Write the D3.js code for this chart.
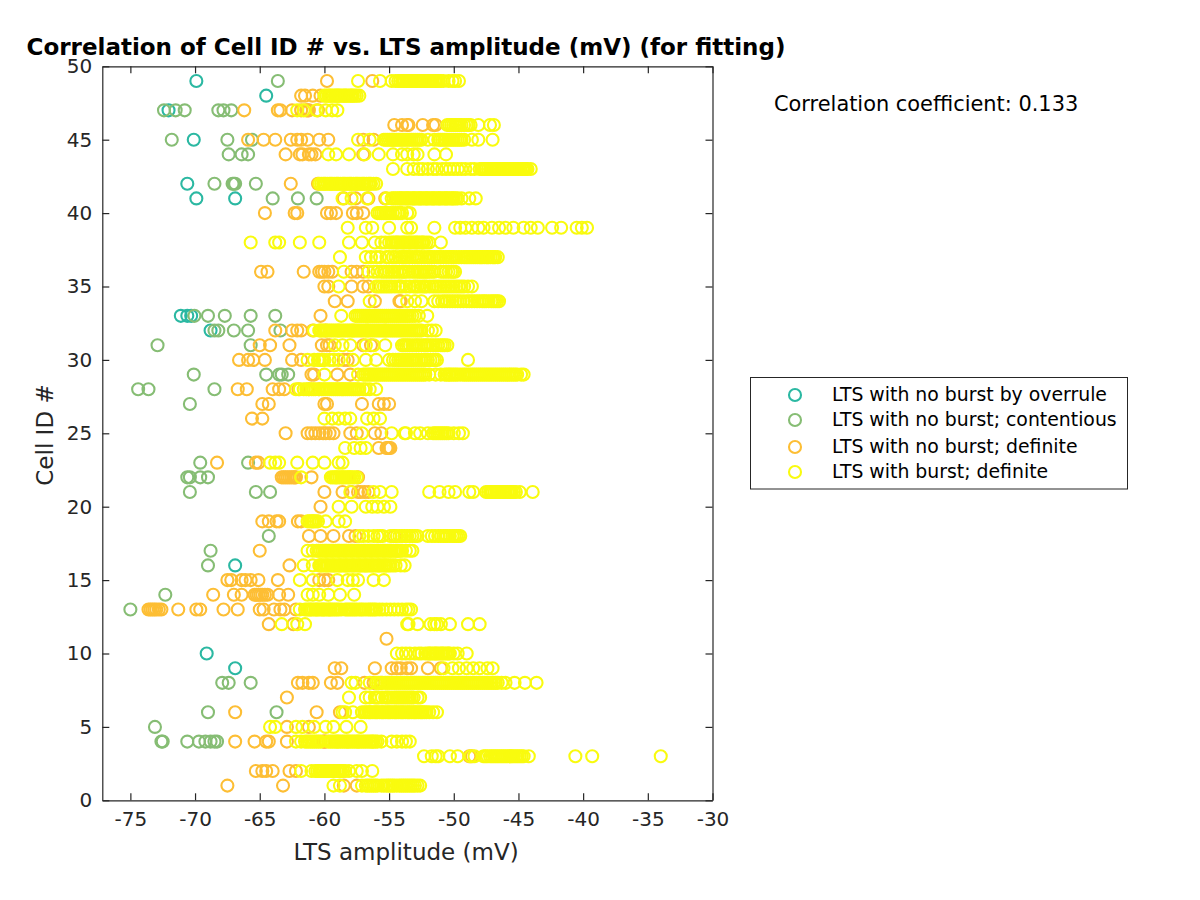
<!DOCTYPE html>
<html><head><meta charset="utf-8">
<script src="https://cdn.jsdelivr.net/npm/d3@7/dist/d3.min.js"></script>
<style>html,body{margin:0;background:#fff}svg{display:block}text{font-family:"DejaVu Sans",sans-serif}</style>
</head><body><svg id="c" width="1200" height="900"></svg>
<script>
const xTicks=[-75,-70,-65,-60,-55,-50,-45,-40,-35,-30];
const yTicks=[0,5,10,15,20,25,30,35,40,45,50];
const seriesNames=["LTS with no burst by overrule","LTS with no burst; contentious","LTS with no burst; definite","LTS with burst; definite"];
const seriesColors=["#2bb8a2","#86bd74","#fdbe34","#f9fb0e"];

const overrule=[[49,[-69.9]],[48,[-64.5]],[47,[-72.05]],[45,[-70.1]],[42,[-70.6]],[41,[-69.9,-66.9]],[33,[-71.1,-70.6,-70.3]],[32,[-68.8]],[16,[-66.9]],[10,[-69.1]],[9,[-66.9]]];

const contentious=[[49,[-63.6]],[47,[-72.4,-71.5,-70.8,-68.2,-67.8,-67.2]],[45,[-71.8,-67.5,-65.6]],[44,[-67.4,-66.4,-65.9]],[42,[-68.5,-67.1,-67,-66.9,-65.3]],[41,[-64,-62.05,-60.6]],[33,[-70.05,-69,-67.7,-65.7,-63.8]],[32,[-68.5,-68.2,-67,-65.9,-63.4]],[31,[-72.9,-65.7]],[29,[-70.1,-64.5,-63.5,-63.3,-62.8]],[28,[-74.4,-73.6,-68.5]],[27,[-70.4]],[23,[-69.6,-65.9]],[22,[-70.6,-70.4,-69.6,-69]],[21,[-70.4,-65.3,-64.2]],[18,[-64.3]],[17,[-68.8]],[16,[-69]],[14,[-72.3]],[13,[-75]],[8,[-67.9,-67.4,-65.7]],[6,[-69,-63.7]],[5,[-73.1]],[4,[-72.6,-72.5,-70.6,-69.7,-69.2,-68.8,-68.5,-68.3]]];

const noBurstDefinite=[[49,[-59.8,-56.3]],[48,[-61.8,-61.5,-60.9,-60.3]],[47,[-66.2,-63.6,-63.4,-62.5,-61.8,-61.4,-61.3,-61.2,-60.5]],[46,[-54.6,-54,-53.6,-53.5,-52.4,-51.6,-51.4]],[45,[-65.9,-64.7,-63.8,-62.6,-62.1,-61.8,-61.3,-60.4,-59.7,-57,-56.2]],[44,[-63,-61.9,-61.7,-61.2,-61,-60.7,-57]],[42,[-62.6,-60.5]],[41,[-58.5,-57.6,-56.6,-55.3]],[40,[-64.6,-62.3,-62.1,-59.8,-59.5,-59.1,-57.8,-57.5,-57]],[36,[-64.9,-64.4,-61.6,-60.4,-60.2,-60,-59.7,-59.4,-57.9,-57.5,-57]],[35,[-60,-59.7,-57.9,-57,-56.6]],[34,[-59.2,-58.2,-56.1,-54.2,-54.1]],[33,[-60.3]],[32,[-63.8,-62.5,-62.1,-61.8,-60.9,-59.9]],[31,[-65,-64.2,-62.7,-60.2,-59.8,-59.6,-57,-56.4]],[30,[-66.6,-65.9,-65.5,-64.6,-62.5,-61.8,-58.5,-58.2]],[29,[-61,-60.8,-59,-58]],[28,[-66.7,-66,-64,-63.5,-63.1,-62,-61.2,-60.4]],[27,[-64.8,-64.3,-60,-59.8,-57.1,-55.8,-55.4,-55]],[26,[-65.6,-64.8]],[25,[-63,-61.3,-61,-60.7,-60.4,-60.1,-59.9,-59.6,-59.3,-58,-57.5,-56.1,-55.6]],[24,[-55.8,-55.2,-55.1,-55,-54.9]],[23,[-68.3,-65.3,-65.1]],[22,[-63.3,-63.15,-63,-62.85,-62.7,-62.55,-62.4,-62.3,-62.2,-61,-57.4]],[21,[-60,-58.6,-57.9,-57.4,-57.2,-56.9,-56.6]],[20,[-60.3]],[19,[-64.8,-64.3,-63.7,-63.5,-62.05,-61.8]],[18,[-61.2,-60.3,-59.3,-58.1,-57.6,-54.6]],[17,[-65]],[16,[-62.7]],[15,[-67.5,-67.2,-66.4,-66.1,-65.7,-65.1,-63.6,-60.4,-60,-59.7]],[14,[-68.6,-67,-66.4,-65.4,-65.25,-65.1,-64.95,-64.8,-64.6,-64.4,-63.5,-62.8]],[13,[-73.6,-73.45,-73.3,-73.15,-73,-72.8,-72.6,-71.3,-69.9,-69.6,-67.8,-66.7,-65,-64.7,-63.9,-63.4,-63.1,-62.2]],[12,[-64.3,-62.4]],[11,[-55.2]],[9,[-59.2,-58.7,-56.1,-54.8,-54.4,-53.6,-54.1,-53.3,-52,-51]],[8,[-62.05,-61.7,-61.2,-60.9,-59.5,-59,-56.9,-56.2,-55.6]],[7,[-62.9]],[6,[-66.9,-60.6,-58.8]],[5,[-62.9,-61.2]],[4,[-66.9,-65.4,-64.5,-64.3,-62.9,-60.1,-60,-59.9]],[3,[-48.8,-48.6]],[2,[-65.3,-64.8,-64.5,-64,-62.7,-62.2]],[1,[-67.5,-63.2,-58.5,-57.5]]];

const burstDefinite=[
[49,[-57.4,-55.7,-54.8,-54.5,-54.3,-54.15,-54,-53.9,-53.8,-53.65,-53.5,-53.4,-53.3,-53.15,-53,-52.9,-52.8,-52.65,-52.5,-52.4,-52.3,-52.15,-52,-51.9,-51.8,-51.65,-51.5,-51.4,-51.3,-51.15,-51,-50.8,-50.4,-50.1,-49.9,-49.6]],
[48,[-60,-59.85,-59.7,-59.6,-59.5,-59.35,-59.2,-59.1,-59,-58.9,-58.8,-58.65,-58.5,-58.4,-58.3,-58.15,-58,-57.9,-57.8,-57.65,-57.5,-57.3]],
[47,[-62.1,-61.6,-60.6,-59.9,-59.4,-59]],
[46,[-50.5,-50.35,-50.2,-50.05,-49.9,-49.8,-49.7,-49.55,-49.4,-49.2,-49,-48.85,-48.7,-48.1,-47.2,-46.9]],
[45,[-57.4,-56.5,-55.4,-55.25,-55.1,-54.95,-54.8,-54.7,-54.6,-54.45,-54.3,-54.15,-54,-53.85,-53.7,-53.55,-53.4,-53.25,-53.1,-52.95,-52.8,-52.65,-52.5,-52,-51.5,-51.2,-51.05,-50.9,-50.75,-50.6,-50.45,-50.3,-50.15,-50,-49.85,-49.7,-49.55,-49.4,-49.2,-48.6,-48.1,-47]],
[44,[-59.7,-59.1,-58.1,-56.9,-55.8,-54.7,-53.6,-54,-53.1,-52.8,-51.5,-50.6]],
[43,[-54.7,-53.6,-53.1,-52.7,-52.4,-52,-51.6,-51.3,-50.9,-50.6,-50.3,-50,-49.7,-49.4,-49.1,-48.7,-48.4,-48,-47.85,-47.7,-47.6,-47.5,-47.35,-47.2,-47.1,-47,-46.85,-46.7,-46.6,-46.5,-46.35,-46.2,-46.1,-46,-45.85,-45.7,-45.6,-45.5,-45.35,-45.2,-45.1,-45,-44.85,-44.7,-44.6,-44.5,-44.4,-44.3,-44.05]],
[42,[-60.4,-60.25,-60.1,-60,-59.9,-59.75,-59.6,-59.5,-59.4,-59.25,-59.1,-59,-58.9,-58.75,-58.6,-58.5,-58.4,-58.25,-58.1,-58,-57.9,-57.75,-57.6,-57.5,-57.4,-57.25,-57.1,-57,-56.9,-56.75,-56.6,-56.5,-56.4,-56.2,-56]],
[41,[-58.6,-57.9,-56.7,-55.2,-54.8,-54.65,-54.5,-54.35,-54.2,-54.1,-54,-53.85,-53.7,-53.6,-53.5,-53.35,-53.2,-53.1,-53,-52.85,-52.7,-52.6,-52.5,-52.35,-52.2,-52.1,-52,-51.85,-51.7,-51.6,-51.5,-51.35,-51.2,-51.1,-51,-50.85,-50.7,-50.6,-50.5,-50.35,-50.2,-50.1,-50,-49.85,-49.7,-49.4,-48.8,-48.3]],
[40,[-55.9,-55.75,-55.6,-55.45,-55.3,-55.2,-55.1,-54.9,-54.7,-54.5,-54.3,-54.15,-54,-53.6,-53.4]],
[39,[-58.2,-56.8,-56.3,-55,-53.6,-53.3,-51.5,-49.9,-49.5,-49.1,-48.6,-48.1,-47.7,-47.05,-46.5,-46,-45.4,-44.6,-44.05,-43.5,-42.4,-41.7,-40.5,-40.1,-39.7]],
[38,[-65.7,-63.8,-63.5,-61.9,-60.4,-58.1,-57.1,-56.1,-55.6,-55.3,-55,-54.8,-54.65,-54.5,-54.4,-54.3,-54.15,-54,-53.9,-53.8,-53.65,-53.5,-53.4,-53.3,-53.15,-53,-52.9,-52.8,-52.65,-52.5,-52.4,-52.3,-52.1,-51.9,-51]],
[37,[-58.8,-56.8,-56.4,-56,-55.7,-55.2,-55,-54.7,-54.5,-54.2,-54,-53.85,-53.7,-53.55,-53.4,-53.2,-53,-52.85,-52.7,-52.5,-52.25,-52,-51.85,-51.7,-51.5,-51.3,-51.15,-51,-50.8,-50.6,-50.45,-50.3,-50.15,-50,-49.8,-49.6,-49.4,-49.2,-49.05,-48.9,-48.75,-48.6,-48.45,-48.3,-48.15,-48,-47.9,-47.8,-47.65,-47.5,-47.4,-47.3,-47.15,-47,-46.9,-46.8,-46.6]],
[36,[-58.5,-56.6,-56.2,-55.9,-55.6,-55.4,-55.2,-55,-54.8,-54.6,-54.4,-54.2,-54,-53.85,-53.7,-53.45,-53.2,-53,-52.8,-52.65,-52.5,-52.35,-52.2,-52.05,-51.9,-51.7,-51.5,-51,-50.8,-50.6,-50.4,-50.2,-50.05,-49.9]],
[35,[-58.9,-56,-55.8,-55.6,-55.4,-55.2,-55,-54.8,-54.55,-54.3,-54.15,-54,-53.7,-53.4,-53.1,-52.95,-52.8,-52.6,-52.4,-52.25,-52.1,-51.85,-51.6,-51.4,-51.2,-51,-50.8,-50.6,-50.4,-50.2,-50,-49.8,-49.6,-49.4,-49.2,-48.9,-48.6]],
[34,[-56.5,-53.6,-53,-52.5,-51.5,-51.2,-50.9,-50.7,-50.5,-50.3,-50.1,-49.9,-49.7,-49.5,-49.25,-49,-48.8,-48.6,-48.4,-48.2,-48,-47.8,-47.65,-47.5,-47.3,-47.1,-46.95,-46.8,-46.65,-46.5]],
[33,[-58.7,-57.6,-57.45,-57.3,-57.15,-57,-56.85,-56.7,-56.55,-56.4,-56.25,-56.1,-55.95,-55.8,-55.65,-55.5,-55.35,-55.2,-55.05,-54.9,-54.75,-54.6,-54.45,-54.3,-54.15,-54,-53.85,-53.7,-53.55,-53.4,-53.2,-53,-52.7,-52.05]],
[32,[-60.8,-60.4,-60.3,-60.2,-60.05,-59.9,-59.75,-59.6,-59.45,-59.3,-59.15,-59,-58.9,-58.8,-58.65,-58.5,-58.35,-58.2,-58.05,-57.9,-57.8,-57.7,-57.55,-57.4,-57.25,-57.1,-56.95,-56.8,-56.7,-56.6,-56.45,-56.3,-56.15,-56,-55.85,-55.7,-55.55,-55.4,-55.3,-55.2,-55.05,-54.9,-54.75,-54.6,-54.45,-54.3,-54.15,-54,-53.85,-53.7,-53.55,-53.4,-53.25,-53.1,-52.95,-52.8,-52.65,-52.5,-52,-51.7,-51.4]],
[31,[-59.2,-58.6,-58,-56.8,-56.2,-55.3,-54,-53.85,-53.7,-53.55,-53.4,-53.2,-53,-52.85,-52.7,-52.5,-52.3,-52.15,-52,-51.8,-51.6,-51.4,-51.2,-51,-50.85,-50.7,-50.5]],
[30,[-61.3,-60.8,-60.5,-60.35,-60.2,-60.1,-60,-59.6,-59.3,-58.9,-57.8,-56.8,-56,-55,-54.7,-54.5,-54.3,-54.15,-54,-53.85,-53.7,-53.55,-53.4,-53.25,-53.1,-52.9,-52.7,-52.5,-52.3,-52.15,-52,-51.8,-51.6,-51.45,-51.3,-48.9]],
[29,[-60,-57.4,-57,-56.85,-56.7,-56.55,-56.4,-56.25,-56.1,-55.95,-55.8,-55.65,-55.5,-55.35,-55.2,-55.05,-54.9,-54.75,-54.6,-54.45,-54.3,-54.15,-54,-53.85,-53.7,-53.55,-53.4,-53.25,-53.1,-52.95,-52.8,-52.65,-52.5,-52.35,-52.2,-51.9,-51.4,-51,-50.7,-50.55,-50.4,-50.3,-50.15,-50,-49.85,-49.7,-49.5,-49.3,-49.15,-49,-48.85,-48.7,-48.55,-48.4,-48.25,-48.1,-47.95,-47.8,-47.65,-47.5,-47.35,-47.2,-47.05,-46.9,-46.75,-46.6,-46.45,-46.3,-46.15,-46,-45.85,-45.7,-45.55,-45.4,-45.25,-45.1,-44.8,-44.6]],
[28,[-62.2,-61.9,-61.6,-61.4,-61.2,-61,-60.85,-60.7,-60.45,-60.2,-60.05,-59.9,-59.75,-59.6,-59.45,-59.3,-59.15,-59,-58.85,-58.7,-58.6,-58.5,-58.35,-58.2,-58.05,-57.9,-57.75,-57.6,-57.45,-57.3,-57,-56.8,-56.5,-56]],
[26,[-60,-59.4,-58.9,-58.4,-58,-56.7,-56.2,-55.7]],
[25,[-57.1,-54.8,-53.8,-53.7,-53,-52.6,-52,-51.6,-51.45,-51.3,-51.15,-51,-50.85,-50.7,-50.55,-50.4,-50,-49.6,-49.3]],
[24,[-58.4,-57.7,-57.2,-56.8]],
[23,[-64.2,-63.8,-63.5,-62.1,-60.9,-60,-58.9,-58.6]],
[22,[-61.8,-59.5,-59.35,-59.2,-59.1,-59,-58.85,-58.7,-58.6,-58.5,-58.35,-58.2,-58.1,-58,-57.85,-57.7,-57.5]],
[21,[-58,-56.2,-55.7,-54.8,-51.9,-51.1,-50.4,-49.9,-48.8,-48.5,-47.5,-47.35,-47.2,-47.1,-47,-46.85,-46.7,-46.6,-46.5,-46.35,-46.2,-46.1,-46,-45.85,-45.7,-45.6,-45.5,-45.35,-45.2,-44.9,-43.9]],
[20,[-58.9,-57.9,-56.8,-56.3,-55.9,-55.4,-54.9]],
[19,[-61.3,-61.15,-61,-60.9,-60.8,-60.65,-60.5,-59.9,-58.9,-58.4]],
[18,[-57.3,-57,-56.6,-56.2,-55.9,-55.7,-55.5,-54.9,-54.65,-54.4,-54.2,-54,-53.8,-53.6,-53.4,-53.2,-53,-52.8,-52,-51.7,-51.45,-51.2,-51,-50.8,-50.65,-50.5,-50.3,-50.1,-49.95,-49.8,-49.65,-49.5]],
[17,[-61.3,-60.9,-60.6,-60.45,-60.3,-60.15,-60,-59.9,-59.8,-59.65,-59.5,-59.4,-59.3,-59.15,-59,-58.9,-58.8,-58.65,-58.5,-58.4,-58.3,-58.15,-58,-57.9,-57.8,-57.65,-57.5,-57.4,-57.3,-57.15,-57,-56.9,-56.8,-56.65,-56.5,-56.4,-56.3,-56.15,-56,-55.9,-55.8,-55.65,-55.5,-55.4,-55.3,-55.15,-55,-54.9,-54.8,-54.65,-54.5,-54.4,-54.3,-54.15,-54,-53.7,-53.4,-53.2]],
[16,[-61.6,-60.9,-60.4,-60.3,-60.2,-60.05,-59.9,-59.8,-59.7,-59.55,-59.4,-59.3,-59.2,-59.05,-58.9,-58.8,-58.7,-58.55,-58.4,-58.3,-58.2,-58.05,-57.9,-57.8,-57.7,-57.55,-57.4,-57.3,-57.2,-57.05,-56.9,-56.8,-56.7,-56.55,-56.4,-56.3,-56.2,-56.05,-55.9,-55.8,-55.7,-55.55,-55.4,-55.3,-55.2,-55.05,-54.9,-54.7,-54.5,-54.1,-53.8]],
[15,[-61.9,-60.9,-59,-58.2,-57.8,-57.4,-56.2,-55.4]],
[14,[-61.3,-60.9,-60.4,-59.7,-58.8,-57.7]],
[13,[-61.9,-61.5,-61.35,-61.2,-61.1,-61,-60.85,-60.7,-60.6,-60.5,-60.35,-60.2,-60.1,-60,-59.85,-59.7,-59.6,-59.5,-59.35,-59.2,-59.05,-58.9,-58.7,-58.4,-58.25,-58.1,-57.95,-57.8,-57.65,-57.5,-57.3,-57.15,-57,-56.8,-56.6,-56.45,-56.3,-56.15,-56,-55.75,-55.5,-55.2,-54.9,-54.6,-54.3,-54,-53.7,-53.5,-53.3]],
[12,[-63.3,-62.1,-61.5,-53.6,-53.5,-52.8,-51.8,-51.5,-51.3,-51,-50.3,-48.9,-48]],
[10,[-54.4,-54,-53.7,-53.4,-53,-52.7,-52.5,-52.2,-52,-51.9,-51.8,-51.65,-51.5,-51.4,-51.3,-51.15,-51,-50.9,-50.8,-50.65,-50.5,-50.4,-50.3,-50,-49.7,-49]],
[9,[-50.8,-50.1,-49.6,-49,-48.5,-48,-47.4,-47]],
[8,[-57.9,-57.6,-56.5,-56,-55.85,-55.7,-55.5,-55.3,-55.15,-55,-54.85,-54.7,-54.55,-54.4,-54.25,-54.1,-53.95,-53.8,-53.65,-53.5,-53.35,-53.2,-53.05,-52.9,-52.75,-52.6,-52.45,-52.3,-52.15,-52,-51.85,-51.7,-51.55,-51.4,-51.25,-51.1,-50.95,-50.8,-50.65,-50.5,-50.35,-50.2,-50.05,-49.9,-49.75,-49.6,-49.45,-49.3,-49.15,-49,-48.85,-48.7,-48.55,-48.4,-48.25,-48.1,-47.95,-47.8,-47.65,-47.5,-47.35,-47.2,-47.05,-46.9,-46.75,-46.6,-46.3,-46,-45.3,-44.5,-43.6]],
[7,[-58.1,-56.8,-56.5,-56.1,-55.95,-55.8,-55.55,-55.3,-55.15,-55,-54.8,-54.6,-54.45,-54.3,-54.15,-54,-53.85,-53.7,-53.55,-53.4,-53.25,-53.1,-52.8,-52.6]],
[6,[-58.6,-58.4,-57.8,-57.1,-56.9,-56.75,-56.6,-56.5,-56.4,-56.25,-56.1,-56,-55.9,-55.75,-55.6,-55.5,-55.4,-55.25,-55.1,-55,-54.9,-54.75,-54.6,-54.5,-54.4,-54.25,-54.1,-54,-53.9,-53.75,-53.6,-53.5,-53.4,-53.25,-53.1,-53,-52.9,-52.75,-52.6,-52.5,-52.4,-52.25,-52.1,-51.9,-51.6,-51.3]],
[5,[-64.2,-63.8,-62.2,-61.7,-60.8,-59.9,-59.3,-58.3,-57.2]],
[4,[-62.2,-61.8,-61.5,-61.35,-61.2,-61.05,-60.9,-60.75,-60.6,-60.45,-60.3,-59.7,-59.55,-59.4,-59.25,-59.1,-59,-58.9,-58.75,-58.6,-58.45,-58.3,-58.2,-58.1,-57.95,-57.8,-57.65,-57.5,-57.4,-57.3,-57.15,-57,-56.85,-56.7,-56.55,-56.4,-56.3,-56.2,-56.05,-55.9,-55.6,-54.8,-54.4,-54,-53.7,-53.4]],
[3,[-52.3,-51.7,-51.4,-51.2,-50.3,-49.7,-48.7,-48.4,-47.7,-47.55,-47.4,-47.2,-47.05,-46.9,-46.75,-46.6,-46.45,-46.3,-46.15,-46,-45.85,-45.7,-45.6,-45.5,-45.35,-45.2,-45.05,-44.9,-44.75,-44.6,-44.2,-40.6,-39.3,-34]],
[2,[-61.8,-61,-60.7,-60.55,-60.4,-60.3,-60.2,-60.05,-59.9,-59.8,-59.7,-59.55,-59.4,-59.3,-59.2,-59.05,-58.9,-58.8,-58.7,-58.55,-58.4,-58.1,-57.5,-57.1,-56.3]],
[1,[-59.3,-58.8,-57.1,-56.8,-56.65,-56.5,-56.35,-56.2,-56.05,-55.9,-55.6,-55.4,-55.2,-55.05,-54.9,-54.75,-54.6,-54.4,-54.2,-54.05,-53.9,-53.75,-53.6,-53.45,-53.3,-53.15,-53,-52.8,-52.6]]
];

const seriesRows=[overrule,contentious,noBurstDefinite,burstDefinite];

const svg=d3.select("#c");
const L=102.3,R=712.5,T=66.3,B=800.3,ink="#262626";
const x=d3.scaleLinear().domain([-77.17,-30]).range([L,R]);
const y=d3.scaleLinear().domain([0,50]).range([B,T]);

const marks=svg.append("g");
seriesRows.forEach((rows,i)=>{
  const pts=rows.flatMap(([cell,vals])=>vals.map(v=>({v,cell})));
  marks.append("g").selectAll("circle").data(pts).join("circle")
    .attr("cx",d=>x(d.v)).attr("cy",d=>y(d.cell)).attr("r",6)
    .attr("fill","none").attr("stroke",seriesColors[i]).attr("stroke-width",2.1);
});

function style(g){g.select(".domain").attr("stroke",ink).attr("stroke-width",1.2);
  g.selectAll(".tick line").attr("stroke",ink).attr("stroke-width",1.2);
  g.selectAll("text").attr("fill",ink).style("font-size","20px").style("font-family",'"DejaVu Sans",sans-serif');}
const fmt=d=>String(d);
svg.append("g").attr("transform",`translate(0,${B})`).call(d3.axisBottom(x).tickValues(xTicks).tickFormat(fmt).tickSize(-7).tickSizeOuter(0).tickPadding(12)).call(style);
svg.append("g").attr("transform",`translate(0,${T})`).call(d3.axisTop(x).tickValues(xTicks).tickFormat("").tickSize(-7).tickSizeOuter(0)).call(style);
svg.append("g").attr("transform",`translate(${L},0)`).call(d3.axisLeft(y).tickValues(yTicks).tickFormat(fmt).tickSize(-7).tickSizeOuter(0).tickPadding(10)).call(style);
svg.append("g").attr("transform",`translate(${R},0)`).call(d3.axisRight(y).tickValues(yTicks).tickFormat("").tickSize(-7).tickSizeOuter(0)).call(style);

svg.append("text").attr("x",406).attr("y",860).attr("text-anchor","middle").attr("fill",ink).style("font-size","23px").text("LTS amplitude (mV)");
svg.append("text").attr("transform","translate(53,435) rotate(-90)").attr("text-anchor","middle").attr("fill",ink).style("font-size","23px").text("Cell ID #");
svg.append("text").attr("x",406).attr("y",55).attr("text-anchor","middle").attr("fill","#000").style("font-size","23px").style("font-weight","bold").text("Correlation of Cell ID # vs. LTS amplitude (mV) (for fitting)");
svg.append("text").attr("x",774).attr("y",111).attr("fill","#000").style("font-size","20.9px").text("Correlation coefficient: 0.133");

const lg=svg.append("g");
lg.append("rect").attr("x",750.5).attr("y",377.5).attr("width",377).attr("height",111.5).attr("fill","#fff").attr("stroke",ink).attr("stroke-width",1);
const rowY=[395,420,447,472];
seriesNames.forEach((n,i)=>{
  lg.append("circle").attr("cx",795).attr("cy",rowY[i]).attr("r",6).attr("fill","none").attr("stroke",seriesColors[i]).attr("stroke-width",2.1);
  lg.append("text").attr("x",832).attr("y",rowY[i]+6).attr("fill","#000").style("font-size","18.85px").text(n);
});
</script></body></html>
